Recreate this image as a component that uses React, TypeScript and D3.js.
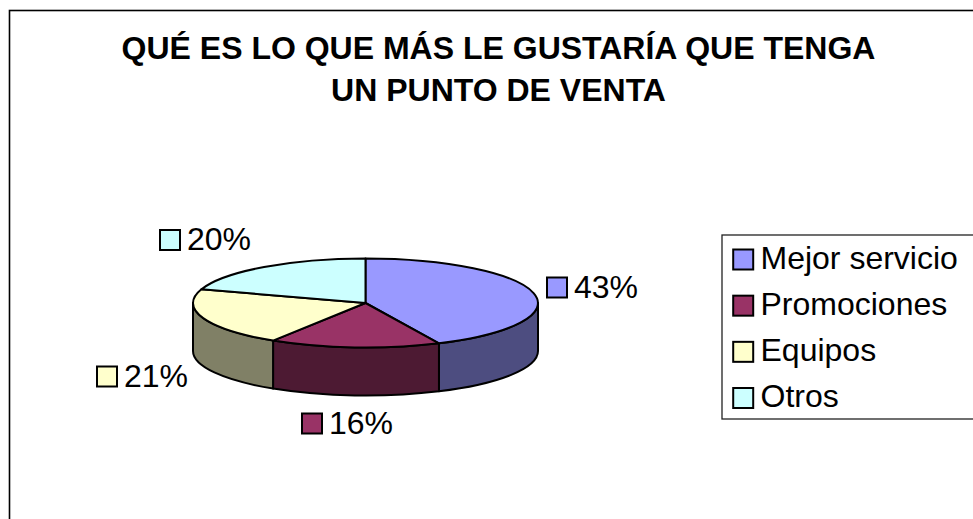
import React from "react";
import * as d3 from "d3";

const categories = ["Mejor servicio", "Promociones", "Equipos", "Otros"];
const values = [43, 16, 21, 20];
const topColors = ["#9999FF", "#993366", "#FFFFCC", "#CCFFFF"];
const sideColors = ["#4D4D80", "#4D1A33", "#808066", "#668080"];
const titleLines = ["QUÉ ES LO QUE MÁS LE GUSTARÍA QUE TENGA", "UN PUNTO DE VENTA"];
const labelPositions = [
  { x: 547, y: 277.5 },
  { x: 302, y: 413.5 },
  { x: 97, y: 366.5 },
  { x: 160, y: 230 },
];

const W = 973;
const H = 519;
const cx = 365.5;
const cy = 303;
const rx = 172.5;
const ry = 44.5;
const depth = 48;
const FONT = "'Liberation Sans', Arial, sans-serif";

export default function App() {
  const pie = d3.pie<number>().sort(null).value((d) => d);
  const arcs = pie(values);
  const pt = (a: number, dy = 0): [number, number] => [
    cx + rx * Math.sin(a),
    cy - ry * Math.cos(a) + dy,
  ];
  const n = (v: number) => v.toFixed(2);
  const topPath = (a0: number, a1: number) => {
    const [x0, y0] = pt(a0);
    const [x1, y1] = pt(a1);
    return `M${cx},${cy}L${n(x0)},${n(y0)}A${rx},${ry} 0 ${a1 - a0 > Math.PI ? 1 : 0} 1 ${n(x1)},${n(y1)}Z`;
  };
  const sidePath = (a0: number, a1: number) => {
    const [x0, y0] = pt(a0);
    const [x1, y1] = pt(a1);
    const [x2, y2] = pt(a1, depth);
    const [x3, y3] = pt(a0, depth);
    return `M${n(x0)},${n(y0)}A${rx},${ry} 0 0 1 ${n(x1)},${n(y1)}L${n(x2)},${n(y2)}A${rx},${ry} 0 0 0 ${n(x3)},${n(y3)}Z`;
  };
  const lo = Math.PI / 2;
  const hi = (3 * Math.PI) / 2;
  const legendY = d3.scalePoint<string>().domain(categories).range([259.5, 398]);

  return (
    <svg
      width={W}
      height={H}
      viewBox={`0 0 ${W} ${H}`}
      style={{ position: "fixed", left: 0, top: 0, display: "block", background: "#fff" }}
      fontFamily={FONT}
    >
      <rect x={9.5} y={10.5} width={W + 20} height={H + 20} fill="#fff" stroke="#000" strokeWidth={1.6} />
      {titleLines.map((t, i) => (
        <text key={t} x={498.5} y={59 + i * 42} textAnchor="middle" fontSize={32} fontWeight="bold" fill="#000">
          {t}
        </text>
      ))}
      {arcs.map((a, i) => {
        const s = Math.max(a.startAngle, lo);
        const e = Math.min(a.endAngle, hi);
        return s < e ? (
          <path key={"s" + i} d={sidePath(s, e)} fill={sideColors[i]} stroke="#000" strokeWidth={2} strokeLinejoin="round" />
        ) : null;
      })}
      {arcs.map((a, i) => (
        <path key={"t" + i} d={topPath(a.startAngle, a.endAngle)} fill={topColors[i]} stroke="#000" strokeWidth={2} strokeLinejoin="round" />
      ))}
      {values.map((v, i) => (
        <g key={"l" + i}>
          <rect x={labelPositions[i].x} y={labelPositions[i].y} width={20} height={20} fill={topColors[i]} stroke="#000" strokeWidth={2} />
          <text x={labelPositions[i].x + 27} y={labelPositions[i].y + 20} fontSize={32} fill="#000">
            {v}%
          </text>
        </g>
      ))}
      <rect x={722} y={235} width={W} height={184} fill="#fff" stroke="#222" strokeWidth={1.3} />
      {categories.map((c, i) => (
        <g key={c}>
          <rect x={733.2} y={legendY(c)! - 10} width={20} height={20} fill={topColors[i]} stroke="#000" strokeWidth={2} />
          <text x={760.5} y={legendY(c)! + 9} fontSize={32} fill="#000">
            {c}
          </text>
        </g>
      ))}
    </svg>
  );
}
